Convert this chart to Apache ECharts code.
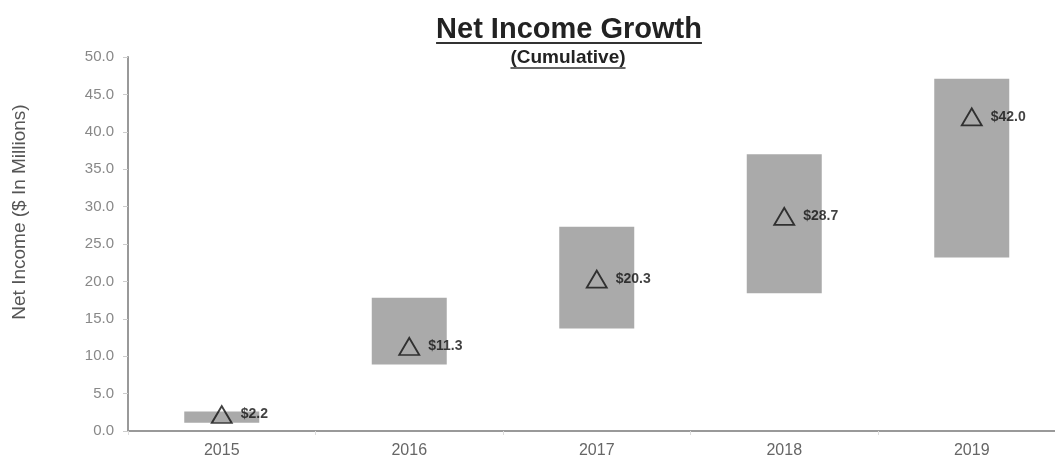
<!DOCTYPE html>
<html>
<head>
<meta charset="utf-8">
<script src="https://cdn.jsdelivr.net/npm/echarts@6/dist/echarts.min.js"></script>
<style>
  html, body { margin: 0; padding: 0; background: #fff; }
  #chart { width: 1055px; height: 457px; }
</style>
</head>
<body>
<div id="chart"></div>
<script>
// Fiscal years on the category axis
const years = ['2015', '2016', '2017', '2018', '2019'];
// Low and high end of each year's projected net income range ($M)
const rangeLow = [1.1, 8.9, 13.7, 18.4, 23.2];
const rangeHigh = [2.6, 17.8, 27.3, 37.0, 47.1];
// Cumulative net income point estimates ($M)
const netIncome = [2.2, 11.3, 20.3, 28.7, 42.0];
// Value-axis tick settings
const yMin = 0, yMax = 50, yStep = 5;

const FONT = '"Liberation Sans", Arial, sans-serif';

// Width of the band between low and high for the stacked bars
const rangeSpan = rangeHigh.map((h, i) => +(h - rangeLow[i]).toFixed(2));

function textWidth(text, font) {
  const c = document.createElement('canvas').getContext('2d');
  c.font = font;
  return c.measureText(text).width;
}

const titleText = 'Net Income Growth';
const subText = '(Cumulative)';
const titleFont = 'bold 29px ' + FONT;
const subFont = 'bold 19px ' + FONT;
const titleCx = 569, subCx = 568;
const titleW = textWidth(titleText, titleFont);
const subW = textWidth(subText, subFont);

const chart = echarts.init(document.getElementById('chart'));
chart.setOption({
  animation: false,
  backgroundColor: '#fff',
  // the plot runs a little past the right edge of the canvas
  grid: { left: 128, top: 57, width: 937.5, height: 374, outerBoundsMode: 'none', containLabel: false },
  xAxis: {
    type: 'category',
    data: years,
    axisLine: { lineStyle: { color: '#999', width: 2 } },
    axisTick: { show: true, alignWithLabel: false, length: 4, lineStyle: { color: '#ddd' } },
    axisLabel: { color: '#666', fontSize: 16, fontFamily: FONT, margin: 12 }
  },
  yAxis: {
    type: 'value',
    min: yMin, max: yMax, interval: yStep,
    splitLine: { show: false },
    axisLine: { show: true, lineStyle: { color: '#999', width: 2 } },
    axisTick: { show: true, length: 5, lineStyle: { color: '#ccc' } },
    axisLabel: {
      color: '#888', fontSize: 15, fontFamily: FONT, margin: 14,
      formatter: v => v.toFixed(1)
    }
  },
  graphic: [
    {
      type: 'text', x: 20, y: 212, rotation: Math.PI / 2,
      style: {
        text: 'Net Income ($ In Millions)', fill: '#555',
        font: '19px ' + FONT, textAlign: 'center', textVerticalAlign: 'middle'
      }
    },
    {
      type: 'text', x: titleCx, y: 30,
      style: { text: titleText, fill: '#222', font: titleFont, textAlign: 'center', textVerticalAlign: 'middle' }
    },
    {
      type: 'line',
      shape: { x1: titleCx - titleW / 2, y1: 43, x2: titleCx + titleW / 2, y2: 43 },
      style: { stroke: '#333', lineWidth: 2 }
    },
    {
      type: 'text', x: subCx, y: 58,
      style: { text: subText, fill: '#222', font: subFont, textAlign: 'center', textVerticalAlign: 'middle' }
    },
    {
      type: 'line',
      shape: { x1: subCx - subW / 2, y1: 68, x2: subCx + subW / 2, y2: 68 },
      style: { stroke: '#333', lineWidth: 1.5 }
    }
  ],
  series: [
    {
      name: 'base', type: 'bar', stack: 'range', data: rangeLow,
      barWidth: '40%', itemStyle: { color: 'transparent' }, silent: true
    },
    {
      name: 'range', type: 'bar', stack: 'range', data: rangeSpan,
      barWidth: '40%', itemStyle: { color: '#aaaaaa' }
    },
    {
      name: 'Net Income', type: 'scatter', data: netIncome,
      symbol: 'triangle', symbolSize: [20, 17], z: 5,
      itemStyle: { color: 'rgba(0,0,0,0)', borderColor: '#111', borderWidth: 1.8 },
      label: {
        show: true, position: 'right', distance: 8,
        color: '#111', fontWeight: 'bold', fontSize: 14, fontFamily: FONT,
        formatter: p => '$' + p.value.toFixed(1)
      }
    }
  ]
});
</script>
</body>
</html>
